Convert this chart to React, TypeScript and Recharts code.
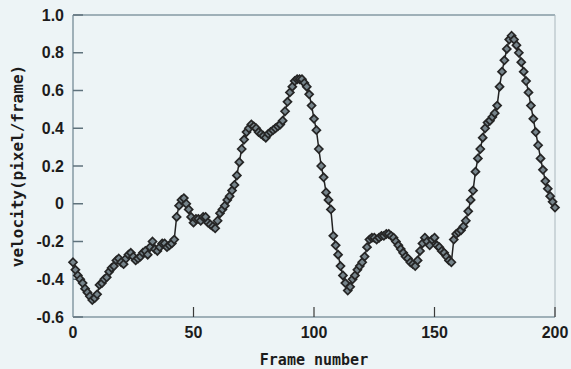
import { LineChart, Line, XAxis, YAxis, ReferenceLine } from 'recharts'

// velocity per frame, frames 0..200
const velocity = [
  -0.31, -0.35, -0.38, -0.4, -0.42, -0.45, -0.47, -0.49, -0.51, -0.5,
  -0.48, -0.43, -0.42, -0.4, -0.39, -0.36, -0.34, -0.33, -0.3, -0.29,
  -0.31, -0.32, -0.29, -0.27, -0.26, -0.28, -0.3, -0.29, -0.28, -0.26,
  -0.25, -0.27, -0.23, -0.2, -0.24, -0.25, -0.23, -0.21, -0.21, -0.23,
  -0.22, -0.21, -0.19, -0.07, -0.01, 0.02, 0.03, 0.0, -0.03, -0.07,
  -0.1, -0.08, -0.08, -0.09, -0.07, -0.07, -0.1, -0.11, -0.12, -0.13,
  -0.09, -0.05, -0.03, -0.01, 0.02, 0.04, 0.07, 0.1, 0.15, 0.22,
  0.29, 0.34, 0.38, 0.4, 0.42, 0.41, 0.4, 0.38, 0.37, 0.36,
  0.35, 0.37, 0.38, 0.39, 0.4, 0.41, 0.42, 0.44, 0.49, 0.54,
  0.59, 0.62, 0.65, 0.66, 0.66, 0.66, 0.64, 0.62, 0.58, 0.52,
  0.45, 0.39, 0.29, 0.2, 0.14, 0.06, 0.02, -0.03, -0.17, -0.22,
  -0.27, -0.33, -0.38, -0.42, -0.46, -0.44, -0.4, -0.38, -0.35, -0.33,
  -0.31, -0.28, -0.23, -0.19, -0.18, -0.18, -0.19, -0.18, -0.17, -0.17,
  -0.16, -0.16, -0.17, -0.18, -0.2, -0.22, -0.24, -0.26, -0.28, -0.29,
  -0.31, -0.32, -0.33, -0.3, -0.25, -0.21, -0.18, -0.2, -0.22, -0.19,
  -0.18, -0.22, -0.23, -0.25, -0.26, -0.28, -0.3, -0.31, -0.19, -0.16,
  -0.15, -0.14, -0.12, -0.09, -0.04, 0.02, 0.07, 0.17, 0.24, 0.29,
  0.35, 0.4, 0.43, 0.44, 0.46, 0.48, 0.52, 0.62, 0.7, 0.76,
  0.82, 0.87, 0.89, 0.87, 0.84, 0.8, 0.75, 0.7, 0.65, 0.59,
  0.52, 0.45, 0.38, 0.31, 0.24, 0.18, 0.12, 0.08, 0.04, 0.01,
  -0.02,
]

const xTicks = [0, 50, 100, 150, 200]
const yTicks = [-0.6, -0.4, -0.2, 0, 0.2, 0.4, 0.6, 0.8, 1.0]

const data = velocity.map((v, i) => ({ frame: i, v }))

const AXIS = '#9fb0b8'
const tickFont = {
  fontFamily: '"Liberation Sans", Arial, sans-serif',
  fontWeight: 700,
  fontSize: 16,
  fill: '#1c1c1c',
}

function Diamond(props: any) {
  const { cx, cy, index } = props
  if (cx == null || cy == null) return <g key={index} />
  const r = 4
  return (
    <path
      key={index}
      d={`M${cx},${cy - r}L${cx + r},${cy}L${cx},${cy + r}L${cx - r},${cy}Z`}
      fill="#76848b"
      stroke="#252525"
      strokeWidth={1.7}
    />
  )
}

function YLabel(props: any) {
  const vb = props.viewBox || {}
  const y = vb.y + vb.height / 2
  return (
    <text
      x={17}
      y={y}
      transform={`rotate(-90, 17, ${y})`}
      textAnchor="middle"
      dominantBaseline="central"
      style={{
        fontFamily: '"DejaVu Sans Mono", monospace',
        fontWeight: 700,
        fontSize: 16,
        fill: '#1c1c1c',
      }}
    >
      velocity(pixel/frame)
    </text>
  )
}

export default function App() {
  return (
    <div
      style={{
        position: 'absolute',
        top: 0,
        left: 0,
        width: 571,
        height: 369,
        background: '#edf4f6',
      }}
    >
      <LineChart
        width={571}
        height={369}
        data={data}
        margin={{ top: 15, right: 16, bottom: 0, left: 0 }}
      >
        <XAxis
          dataKey="frame"
          type="number"
          domain={[0, 200]}
          ticks={xTicks}
          height={52}
          tickSize={-10}
          tickMargin={20}
          axisLine={{ stroke: AXIS, strokeWidth: 2 }}
          tickLine={{ stroke: '#3a3a3a', strokeWidth: 1.2 }}
          tick={tickFont}
          label={{
            value: 'Frame number',
            position: 'insideBottom',
            offset: 4,
            style: {
              fontFamily: '"DejaVu Sans Mono", monospace',
              fontWeight: 700,
              fontSize: 15,
              fill: '#1c1c1c',
            },
          }}
        />
        <YAxis
          type="number"
          domain={[-0.6, 1.0]}
          ticks={yTicks}
          width={73}
          tickSize={-10}
          tickMargin={19}
          interval={0}
          axisLine={{ stroke: AXIS, strokeWidth: 2 }}
          tickLine={{ stroke: '#5f727c', strokeWidth: 1.5 }}
          tick={tickFont}
          tickFormatter={(v: number) => (v === 0 ? '0' : v.toFixed(1))}
          label={{ content: YLabel }}
        />
        <ReferenceLine y={1.0} stroke={AXIS} strokeWidth={2} />
        <ReferenceLine x={200} stroke="#aab7bd" strokeWidth={1} />
        <Line
          type="linear"
          dataKey="v"
          stroke="#222"
          strokeWidth={1.5}
          dot={Diamond}
          activeDot={false}
          isAnimationActive={false}
        />
      </LineChart>
    </div>
  )
}
